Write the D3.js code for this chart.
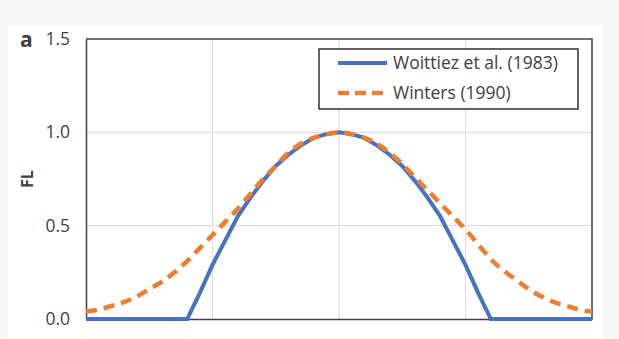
<!DOCTYPE html>
<html>
<head>
<meta charset="utf-8">
<script src="https://cdn.jsdelivr.net/npm/d3@7"></script>
<style>
  body { margin:0; background:#f8f8f8; }
  #canvas { width:619px; height:339px; }
  text { font-family:"Open Sans", "Noto Sans", sans-serif; fill:#404040; }
</style>
</head>
<body>
<div id="canvas" class="canvas"></div>
<script>
// data (x = relative length, 0.05 steps)
var lengths = d3.range(0, 41).map(function(i){ return i * 0.05; });
var woittiez = [0,0,0,0,0,0,0,0,0,0.14,0.29,0.42,0.55,0.65,0.74,0.82,0.88,0.93,0.97,0.99,1.00,
                0.99,0.97,0.93,0.88,0.82,0.74,0.65,0.55,0.42,0.29,0.14,0,0,0,0,0,0,0,0,0];
var winters = [0.04,0.05,0.07,0.09,0.12,0.16,0.20,0.25,0.31,0.38,0.45,0.52,0.59,0.67,0.75,0.82,0.89,0.94,0.97,0.99,1.00,
               0.99,0.97,0.94,0.89,0.83,0.76,0.69,0.62,0.55,0.48,0.40,0.32,0.26,0.21,0.16,0.12,0.09,0.07,0.05,0.04];
var seriesNames = ['Woittiez et al. (1983)', 'Winters (1990)'];
var yTicks = [0, 0.5, 1.0, 1.5];
var xTicks = [0.5, 1.0, 1.5];

var m = {t:39,r:27,b:20,l:86};
var outerWidth = 619, outerHeight = 339;
var w = outerWidth - m.l - m.r,
    h = outerHeight - m.t - m.b;

var svg = d3.select('.canvas')
    .append('svg')
    .attr('width', outerWidth)
    .attr('height', outerHeight);

// white panel
svg.append('rect').attr('x',8).attr('y',25).attr('width',595).attr('height',320).attr('fill','#fff');

var plot = svg.append('g')
    .attr('transform','translate(' + m.l + ',' + m.t + ')');

var scaleX = d3.scaleLinear().domain([0,2]).range([0,w]);
var scaleY = d3.scaleLinear().domain([0,1.5]).range([h,0]);

// gridlines
plot.append('g').selectAll('line.gy')
    .data(yTicks.slice(1,3))
    .enter().append('line')
    .attr('x1',0).attr('x2',w)
    .attr('y1',function(d){return scaleY(d)}).attr('y2',function(d){return scaleY(d)})
    .attr('stroke','#dedede').attr('stroke-width',1.2);
plot.append('g').selectAll('line.gx')
    .data(xTicks)
    .enter().append('line')
    .attr('y1',0).attr('y2',h)
    .attr('x1',function(d){return scaleX(d)}).attr('x2',function(d){return scaleX(d)})
    .attr('stroke','#dedede').attr('stroke-width',1.2);

// frame: top and right
plot.append('path')
    .attr('d','M0,0H' + w + 'V' + h)
    .attr('fill','none').attr('stroke','#404040').attr('stroke-width',1.5);

// axes
var axisY = d3.axisLeft().scale(scaleY).tickValues(yTicks).tickSize(0).tickPadding(16)
    .tickFormat(d3.format('.1f'));
var gy = plot.append('g').attr('class','axis').call(axisY);
gy.select('.domain').attr('stroke','#404040').attr('stroke-width',1.5);
gy.selectAll('text').style('font-size','17.5px').attr('fill','#404040');

var axisX = d3.axisBottom().scale(scaleX).tickValues([]).tickSize(0);
var gx = plot.append('g').attr('transform','translate(0,' + h + ')').call(axisX);
gx.select('.domain').attr('stroke','#404040').attr('stroke-width',1.5);

// lines
var line = d3.line()
    .x(function(d){return scaleX(d[0])})
    .y(function(d){return scaleY(d[1])});

plot.append('path')
    .datum(d3.zip(lengths, woittiez))
    .attr('d', line)
    .attr('fill','none').attr('stroke','#4472c4').attr('stroke-width',4);

plot.append('path')
    .datum(d3.zip(lengths, winters))
    .attr('d', line.curve(d3.curveMonotoneX))
    .attr('fill','none').attr('stroke','#ed7d31').attr('stroke-width',4.5)
    .attr('stroke-dasharray','11,7');

// legend
var legend = svg.append('g').attr('transform','translate(319,49)');
legend.append('rect').attr('width',259).attr('height',60)
    .attr('fill','#fff').attr('stroke','#303030').attr('stroke-width',1.5);
var rows = legend.selectAll('g.item').data(seriesNames).enter().append('g')
    .attr('transform',function(d,i){return 'translate(0,' + (14 + i*30) + ')'});
rows.append('line')
    .attr('x1',19).attr('x2',68).attr('y1',0).attr('y2',0)
    .attr('stroke',function(d,i){return i ? '#ed7d31' : '#4472c4'})
    .attr('stroke-width',function(d,i){return i ? 4.5 : 4})
    .attr('stroke-dasharray',function(d,i){return i ? '11,6' : null});
rows.append('text')
    .attr('x',74).attr('y',0).attr('dy','0.35em')
    .style('font-size','17.5px')
    .text(function(d){return d});

// labels
svg.append('text').attr('x',20).attr('y',47).style('font-size','21px').style('font-weight','bold')
    .attr('fill','#222').text('a');
svg.append('text').attr('transform','translate(33,179) rotate(-90)')
    .attr('text-anchor','middle').style('font-size','16px').style('font-weight','bold')
    .attr('fill','#222').text('FL');
</script>
</body>
</html>
